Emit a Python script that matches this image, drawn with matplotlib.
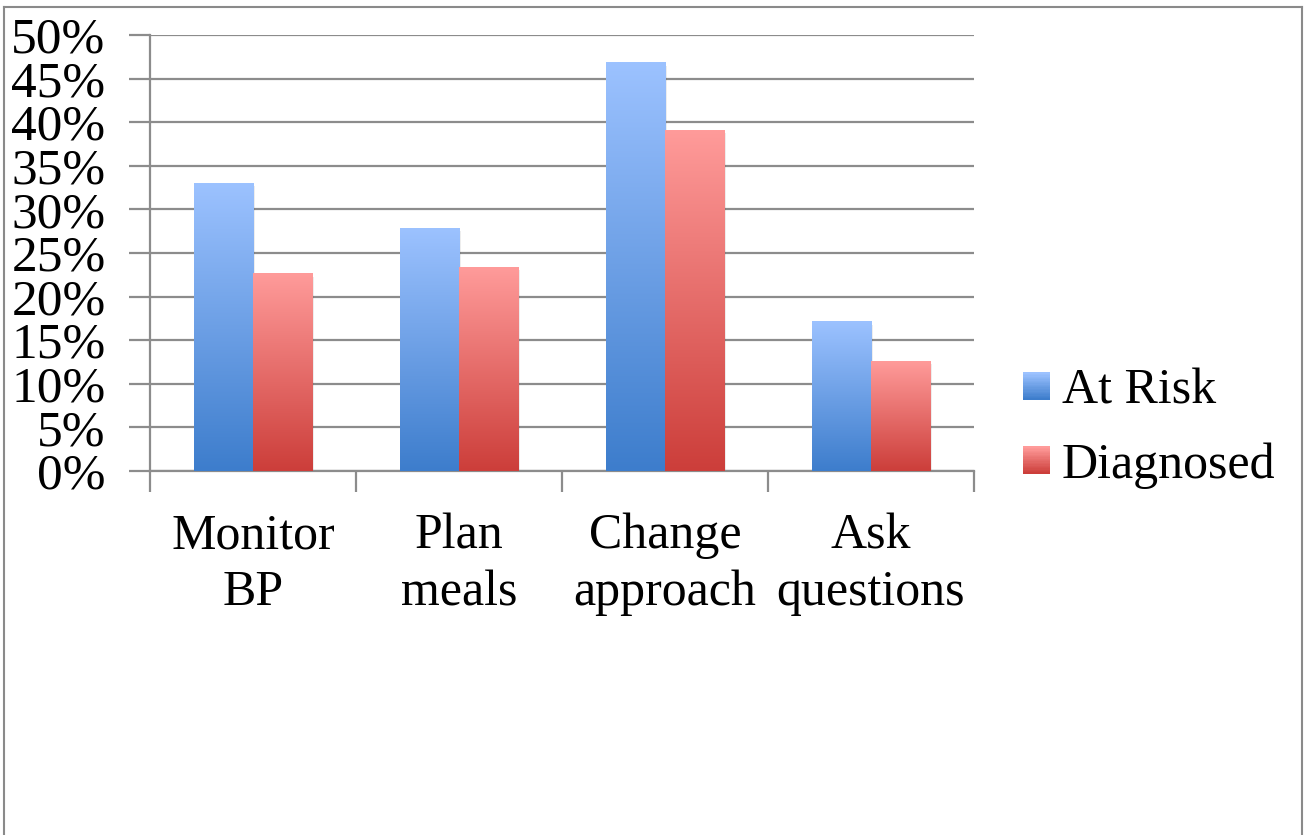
import numpy as np
import matplotlib.pyplot as plt
from matplotlib.colors import LinearSegmentedColormap
from matplotlib.legend_handler import HandlerBase
from matplotlib.patches import Rectangle, Patch
from matplotlib.lines import Line2D

categories = ["Monitor\nBP", "Plan\nmeals", "Change\napproach", "Ask\nquestions"]
at_risk = [33.0, 27.8, 46.8, 17.1]
diagnosed = [22.6, 23.3, 39.1, 12.6]
series_names = ["At Risk", "Diagnosed"]
yticks = [0, 5, 10, 15, 20, 25, 30, 35, 40, 45, 50]

blue_cmap = LinearSegmentedColormap.from_list("blue", ["#3d7dcc", "#9cc2ff"])
red_cmap = LinearSegmentedColormap.from_list("red", ["#cc3e3a", "#ff9b9a"])

plt.rcParams['font.family'] = ['Liberation Serif', 'DejaVu Serif']
grid_col = "#8c8c8c"


class GradientHandler(HandlerBase):
    def __init__(self, cmap):
        super().__init__()
        self.cmap = cmap

    def create_artists(self, legend, orig_handle, xdescent, ydescent, width, height, fontsize, trans):
        n = 20
        arts = []
        side = width
        x0 = -xdescent
        y0 = -ydescent + (height - side) / 2
        for i in range(n):
            r = Rectangle((x0, y0 + side * i / n), side, side / n + 0.3,
                          facecolor=self.cmap(i / (n - 1)), edgecolor='none', transform=trans)
            arts.append(r)
        return arts


fig = plt.figure(figsize=(13.07, 8.35), dpi=100)
ax = fig.add_axes([0.1148, 0.4359, 0.6304, 0.5222])

x = np.arange(len(categories))
w = 0.287
b1 = ax.bar(x - w / 2, at_risk, w, color='none', zorder=3)
b2 = ax.bar(x + w / 2, diagnosed, w, color='none', zorder=3)

grad = np.linspace(0, 1, 256).reshape(-1, 1)
for bars, cmap in [(b1, blue_cmap), (b2, red_cmap)]:
    for r in bars:
        x0, y0 = r.get_x(), r.get_y()
        bw, bh = r.get_width(), r.get_height()
        # soft shadow
        ax.add_patch(Rectangle((x0 + 0.01, y0 - 0.3), bw, bh, facecolor='#000000', alpha=0.07,
                               edgecolor='none', zorder=2.5))
        ax.imshow(grad, cmap=cmap, origin='lower', aspect='auto',
                  extent=[x0, x0 + bw, y0, y0 + bh], zorder=3, interpolation='bilinear')

ax.set_xlim(-0.5, len(categories) - 0.5)
ax.set_ylim(0, 50)
ax.set_yticks(yticks)
ax.set_yticklabels([f"{t}%" for t in yticks], fontsize=37)
ax.yaxis.grid(True, color=grid_col, linewidth=1.6, zorder=1)
ax.set_axisbelow(True)

ax.set_xticks(np.arange(len(categories) + 1) - 0.5)
ax.set_xticklabels([])
ax.set_xticks(x, minor=True)
ax.set_xticklabels(categories, minor=True, fontsize=36, linespacing=1.3)
ax.tick_params(axis='x', which='minor', length=0, pad=30)
ax.tick_params(axis='x', which='major', length=15, width=1.6, color=grid_col)
ax.tick_params(axis='y', length=15, width=1.6, color=grid_col, pad=17)

for s in ['top', 'right']:
    ax.spines[s].set_visible(False)
for s in ['left', 'bottom']:
    ax.spines[s].set_color(grid_col)
    ax.spines[s].set_linewidth(1.6)

handles = [Patch(label=series_names[0]), Patch(label=series_names[1])]
fig.legend(handles, series_names, loc='center left', bbox_to_anchor=(0.7827, 0.487),
           frameon=False, fontsize=36, handlelength=0.54, handletextpad=0.24,
           labelspacing=0.55, borderpad=0, borderaxespad=0,
           handler_map={handles[0]: GradientHandler(blue_cmap), handles[1]: GradientHandler(red_cmap)})

# outer border of the chart area
for xs, ys in [([0.003, 0.003], [0.0, 0.992]), ([0.003, 0.9965], [0.992, 0.992]),
               ([0.9965, 0.9965], [0.0, 0.992])]:
    fig.add_artist(Line2D(xs, ys, color='#8a8a8a', linewidth=1.5, transform=fig.transFigure))

fig.savefig("out.png", dpi=100)
